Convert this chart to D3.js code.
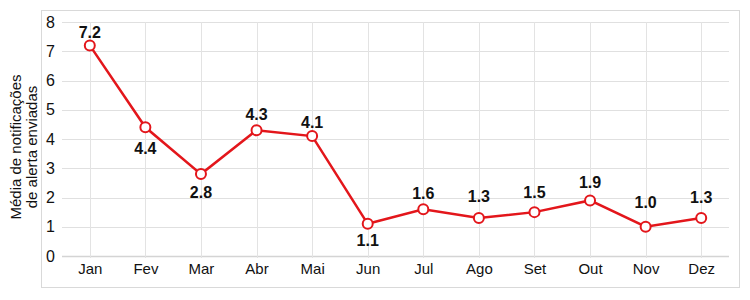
<!DOCTYPE html>
<html>
<head>
<meta charset="utf-8">
<script src="https://cdn.jsdelivr.net/npm/d3@7"></script>
<style>
  body { margin: 0; background: #fff; font-family: "Liberation Sans", Arial, sans-serif; }
</style>
</head>
<body>
<div id="chart"></div>
<script>
// data
var months = ['Jan', 'Fev', 'Mar', 'Abr', 'Mai', 'Jun', 'Jul', 'Ago', 'Set', 'Out', 'Nov', 'Dez'];
var values = [7.2, 4.4, 2.8, 4.3, 4.1, 1.1, 1.6, 1.3, 1.5, 1.9, 1.0, 1.3];
var yTicks = [0, 1, 2, 3, 4, 5, 6, 7, 8];

var svg_width = 750, svg_height = 300;
var plot_left = 62, plot_right = 729, plot_top = 22, plot_bottom = 256;

// label nudges (px from point centre to label centre), as placed in the reference
var label_dy = [-13, 21, 18, -16, -14, 16, -16, -22, -20, -18, -25, -21];

var svg = d3.select('#chart').append('svg')
    .attr('width', svg_width)
    .attr('height', svg_height);

// outer frame
svg.append('rect')
  .attr('x', 41.5).attr('y', 10.5)
  .attr('width', 698).attr('height', 277)
  .attr('fill', 'none')
  .attr('stroke', '#d9d9d9')
  .attr('stroke-width', 1);

var x = d3.scalePoint()
    .domain(months)
    .range([plot_left, plot_right])
    .padding(0.5);

var y = d3.scaleLinear()
    .domain([0, 8])
    .range([plot_bottom, plot_top]);

// horizontal gridlines
svg.append('g')
  .selectAll('line')
  .data(yTicks)
  .enter().append('line')
    .attr('x1', plot_left).attr('x2', plot_right)
    .attr('y1', d => Math.round(y(d)) + 0.5)
    .attr('y2', d => Math.round(y(d)) + 0.5)
    .attr('stroke', d => d === 0 ? '#d4d4d4' : '#e0e0e0')
    .attr('stroke-width', d => d === 0 ? 1.5 : 1);

// vertical gridlines
svg.append('g')
  .selectAll('line')
  .data(months)
  .enter().append('line')
    .attr('x1', d => Math.round(x(d)) + 0.5)
    .attr('x2', d => Math.round(x(d)) + 0.5)
    .attr('y1', plot_top)
    .attr('y2', plot_bottom + 2)
    .attr('stroke', '#e3e3e3')
    .attr('stroke-width', 1);

// y axis
var yaxis = d3.axisLeft(y).tickValues(yTicks).tickSize(0).tickPadding(0);
svg.append('g')
  .attr('transform', 'translate(' + 55 + ', 0)')
  .call(yaxis)
  .call(g => g.select('.domain').remove())
  .selectAll('text')
    .attr('font-family', '"Liberation Sans", Arial, sans-serif')
    .attr('font-size', '16px')
    .attr('fill', '#111');

// x axis
var xaxis = d3.axisBottom(x).tickSize(0).tickPadding(0);
svg.append('g')
  .attr('transform', 'translate(0, ' + 263 + ')')
  .call(xaxis)
  .call(g => g.select('.domain').remove())
  .selectAll('text')
    .attr('font-family', '"Liberation Sans", Arial, sans-serif')
    .attr('font-size', '15px')
    .attr('fill', '#111');

// y axis title
var title = svg.append('text')
  .attr('transform', 'translate(23, 147) rotate(-90)')
  .attr('text-anchor', 'middle')
  .attr('font-family', '"Liberation Sans", Arial, sans-serif')
  .attr('font-size', '15px')
  .attr('fill', '#111');
title.append('tspan').attr('x', 0).attr('dy', '-0.15em').text('Média de notificações');
title.append('tspan').attr('x', 0).attr('dy', '1.05em').text('de alerta enviadas');

// line
var line = d3.line()
    .x((d, i) => x(months[i]))
    .y(d => y(d));

svg.append('path')
  .datum(values)
  .attr('d', line)
  .attr('fill', 'none')
  .attr('stroke', '#e3161b')
  .attr('stroke-width', 2.5);

svg.append('g')
  .selectAll('circle')
  .data(values)
  .enter().append('circle')
    .attr('cx', (d, i) => x(months[i]))
    .attr('cy', d => y(d))
    .attr('r', 5)
    .attr('fill', '#fff')
    .attr('stroke', '#e3161b')
    .attr('stroke-width', 2);

// value labels
svg.append('g')
  .selectAll('text')
  .data(values)
  .enter().append('text')
    .attr('x', (d, i) => x(months[i]))
    .attr('y', (d, i) => y(d) + label_dy[i] + 6)
    .attr('text-anchor', 'middle')
    .attr('font-family', '"Liberation Sans", Arial, sans-serif')
    .attr('font-size', '16px')
    .attr('font-weight', 'bold')
    .attr('fill', '#111')
    .text(d => d.toFixed(1));
</script>
</body>
</html>
